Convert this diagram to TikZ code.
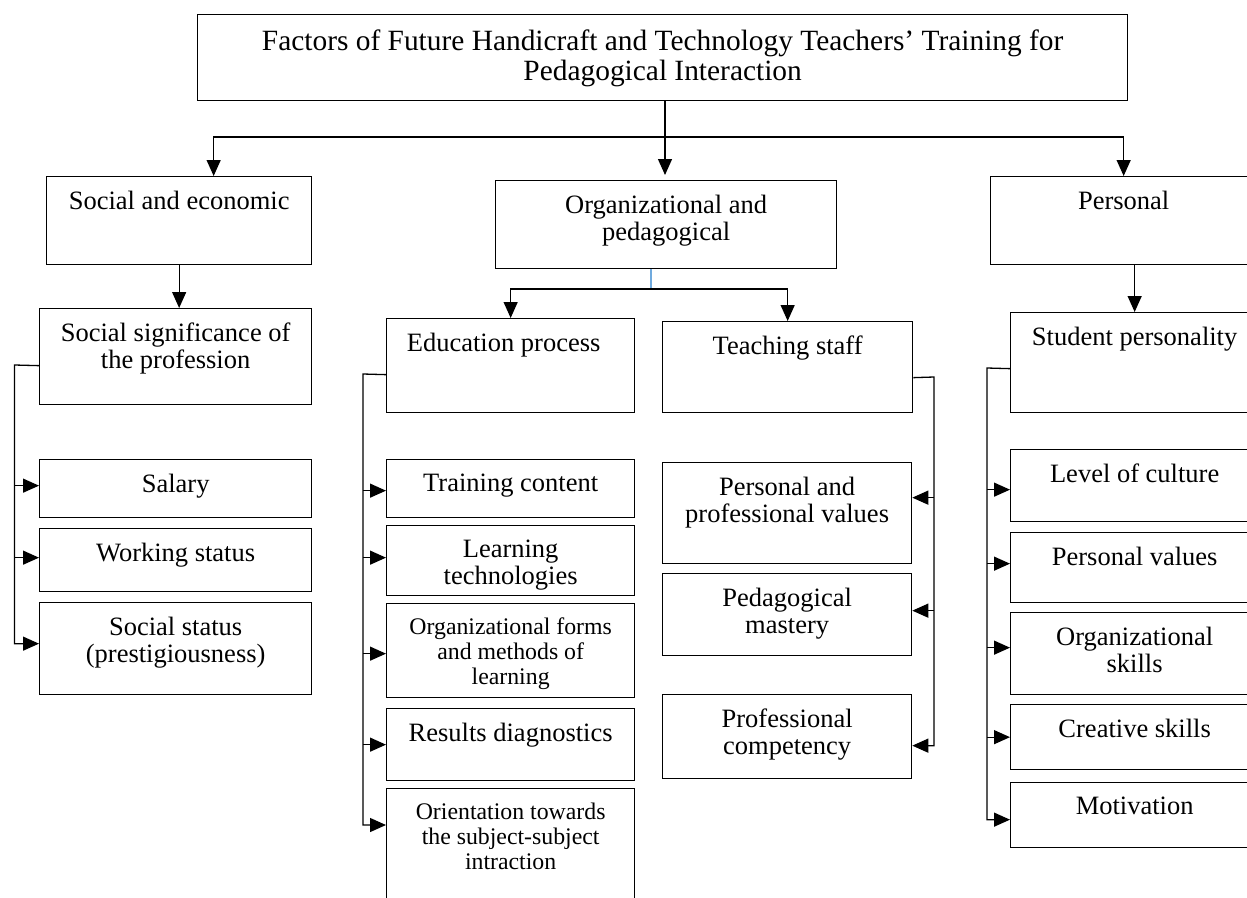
\documentclass[tikz,border=0pt]{standalone}
\usepackage{fontspec}
\setmainfont{Liberation Serif}
\usetikzlibrary{arrows.meta}
\definecolor{linkblue}{RGB}{112,170,222}
\newcommand{\boxfont}{\fontsize{26.5}{27}\selectfont}
\newcommand{\smallboxfont}{\fontsize{23.8}{25}\selectfont}
\newcommand{\titlefont}{\fontsize{29.4}{30}\selectfont}

\begin{document}
\begin{tikzpicture}[x=1pt, y=-1pt, line width=1.3pt,
  box/.style 2 args={draw, minimum width=#1, minimum height=#2, anchor=north west, inner sep=0pt},
  txt/.style={anchor=north, inner sep=0pt, align=center, yshift=-14pt, font=\boxfont},
  stxt/.style={txt, font=\smallboxfont},
  >={Triangle[length=16pt, width=14pt]}]
        \useasboundingbox (0,0) rectangle (1247,897);
        \clip (0,0) rectangle (1247,897);

        \node[box={930}{86}, label={[txt, font=\titlefont, yshift=-1pt]north:Factors of Future Handicraft and Technology Teachers' Training for\\Pedagogical Interaction}] (title) at (197,14) {};

        \node[box={265}{88}, label={[txt]north:Social and economic}] (socec) at (46,176) {};
        \node[box={341}{88}, label={[txt]north:Organizational and\\pedagogical}] (orgped) at (495,180) {};
        \node[box={266}{88}, label={[txt]north:Personal}] (personal) at (990,176) {};

        \node[box={272}{96}, label={[txt]north:Social significance of\\the profession}] (socsig) at (39,308) {};
        \node[box={272}{58}, label={[txt]north:Salary}] (salary) at (39,459) {};
        \node[box={272}{63}, label={[txt]north:Working status}] (working) at (39,528) {};
        \node[box={272}{92}, label={[txt]north:Social status\\(prestigiousness)}] (status) at (39,602) {};

        \node[box={248}{94}, label={[txt, xshift=-7pt]north:Education process}] (edu) at (386,318) {};
        \node[box={248}{58}, label={[txt]north:Training content}] (content) at (386,459) {};
        \node[box={248}{70}, label={[txt]north:Learning\\technologies}] (learntech) at (386,525) {};
        \node[box={248}{94}, label={[stxt]north:Organizational forms\\and methods of\\learning}] (forms) at (386,603) {};
        \node[box={248}{72}, label={[txt]north:Results diagnostics}] (results) at (386,708) {};
        \node[box={248}{120}, label={[stxt]north:Orientation towards\\the subject-subject\\intraction}] (orient) at (386,788) {};

        \node[box={250}{91}, label={[txt]north:Teaching staff}] (staff) at (662,321) {};
        \node[box={249}{101}, label={[txt]north:Personal and\\professional values}] (profvalues) at (662,462) {};
        \node[box={249}{82}, label={[txt]north:Pedagogical\\mastery}] (mastery) at (662,573) {};
        \node[box={249}{84}, label={[txt]north:Professional\\competency}] (competency) at (662,694) {};

        \node[box={248}{100}, label={[txt]north:Student personality}] (student) at (1010,312) {};
        \node[box={248}{72}, label={[txt]north:Level of culture}] (culture) at (1010,449) {};
        \node[box={248}{70}, label={[txt]north:Personal values}] (persvalues) at (1010,532) {};
        \node[box={248}{82}, label={[txt]north:Organizational\\skills}] (orgskills) at (1010,612) {};
        \node[box={248}{65}, label={[txt]north:Creative skills}] (creative) at (1010,704) {};
        \node[box={248}{65}, label={[txt]north:Motivation}] (motivation) at (1010,782) {};

        \coordinate (bus) at (665,137);
        \draw (title.south -| bus) -- (bus);
        \draw[->] (bus) -| ([xshift=34.5pt]socec.north);
        \draw[->] (bus) -| (personal.north);
        \draw[->, shorten >=5pt] (bus) -- (bus |- orgped.north);

        \draw[->] (socec.south) -- (socec.south |- socsig.north);
        \draw[->] (student.north |- personal.south) -- (student.north);

        \coordinate (split) at (651,289);
        \draw[linkblue] (orgped.south -| split) -- (split);
        \draw[->] (split) -| (edu.north);
        \draw[->] (split) -| (staff.north);

        \coordinate (railsoc) at (14.5,365);
        \draw[->] ([yshift=-9pt]socsig.west) -- (railsoc) |- ([yshift=5pt]status.west);
        \draw[->] ([yshift=3pt]salary.west -| railsoc) -- ([yshift=3pt]salary.west);
        \draw[->] ([yshift=2.5pt]working.west -| railsoc) -- ([yshift=2.5pt]working.west);

        \coordinate (railedu) at (363,374);
        \draw[->] ([yshift=-9pt]edu.west) -- (railedu) |- ([yshift=-37pt]orient.north west);
        \draw[->] ([yshift=-2pt]content.west -| railedu) -- ([yshift=-2pt]content.west);
        \draw[->] ([yshift=3pt]learntech.west -| railedu) -- ([yshift=3pt]learntech.west);
        \draw[->] ([yshift=-3pt]forms.west -| railedu) -- ([yshift=-3pt]forms.west);
        \draw[->] (results.west -| railedu) -- (results.west);

        \coordinate (railstaff) at (934,377);
        \draw[->] ([yshift=-10.5pt]staff.east) -- (railstaff) |- ([yshift=-9pt]competency.east);
        \draw[->] ([yshift=15.5pt]profvalues.east -| railstaff) -- ([yshift=15.5pt]profvalues.east);
        \draw[->] ([yshift=4pt]mastery.east -| railstaff) -- ([yshift=4pt]mastery.east);

        \coordinate (railstu) at (987,368);
        \draw[->] ([yshift=-6pt]student.west) -- (railstu) |- ([yshift=-4.5pt]motivation.west);
        \draw[->] ([yshift=-4pt]culture.west -| railstu) -- ([yshift=-4pt]culture.west);
        \draw[->] ([yshift=4pt]persvalues.west -| railstu) -- ([yshift=4pt]persvalues.west);
        \draw[->] ([yshift=6pt]orgskills.west -| railstu) -- ([yshift=6pt]orgskills.west);
        \draw[->] (creative.west -| railstu) -- (creative.west);
      \end{tikzpicture}
\end{document}
